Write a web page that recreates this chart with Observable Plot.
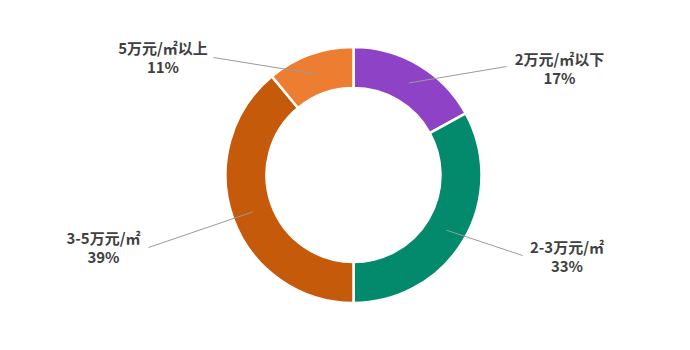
<!DOCTYPE html>
<html><head><meta charset="utf-8">
<script src="https://cdn.jsdelivr.net/npm/d3@7"></script>
<script src="https://cdn.jsdelivr.net/npm/@observablehq/plot@0.6"></script>
<style>body{margin:0;background:#fff}#chart{width:690px;height:350px}</style>
</head><body><div id="chart"></div>
<script>
// ---- data ----
const categories = ["2万元/㎡以下", "2-3万元/㎡", "3-5万元/㎡", "5万元/㎡以上"];
const shares = [17, 33, 39, 11];
const colors = ["#8E43C7", "#03896B", "#C55A0B", "#ED7D31"];

// ---- layout (pixels) ----
const W = 690, H = 350, CX = 353.5, CY = 175, R_OUT = 128, R_IN = 87;
const labelAt = [[559, 67.5], [566.5, 255.5], [103, 247], [162.5, 57]];
const leaderEnd = [[506, 66], [522, 255], [148, 247], [213, 57]];

const data = categories.map((c, i) => ({cat: c, share: shares[i], color: colors[i]}));
const arcs = d3.pie().sort(null).value(d => d.share)(data);
const rMid = (R_IN + R_OUT) / 2 / R_OUT;
const ux = px => (px - CX) / R_OUT, uy = py => (CY - py) / R_OUT;

const rows = arcs.map((a, i) => {
  const m = (a.startAngle + a.endAngle) / 2;
  return {
    ...a.data,
    sx: rMid * Math.sin(m), sy: rMid * Math.cos(m),
    ex: ux(leaderEnd[i][0]), ey: uy(leaderEnd[i][1]),
    tx: ux(labelAt[i][0]), ty: uy(labelAt[i][1])
  };
});

function slices(index, scales) {
  const x0 = scales.x(0), y0 = scales.y(0), k = scales.x(1) - scales.x(0);
  const arc = d3.arc().innerRadius(R_IN / R_OUT * k).outerRadius(k);
  const g = d3.create("svg:g").attr("transform", `translate(${x0},${y0})`);
  g.selectAll("path").data(arcs).join("path")
    .attr("d", arc).attr("fill", d => d.data.color)
    .attr("stroke", "#fff").attr("stroke-width", 2.5).attr("stroke-linejoin", "round");
  return g.node();
}

const chart = Plot.plot({
  width: W, height: H, margin: 0,
  x: {domain: [ux(0), ux(W)], axis: null},
  y: {domain: [uy(H), uy(0)], axis: null},
  style: {background: "#fff"},
  marks: [
    slices,
    Plot.link(rows, {x1: "sx", y1: "sy", x2: "ex", y2: "ey", stroke: "#9a9a9a", strokeWidth: 1}),
    Plot.text(rows, {
      x: "tx", y: "ty", text: d => `${d.cat}\n${d.share}%`,
      fontSize: 15, fontWeight: "bold", fill: "#404040", lineHeight: 1.28,
      textAnchor: "middle", lineAnchor: "middle",
      fontFamily: "'Noto Sans CJK SC', 'Noto Sans', sans-serif"
    })
  ]
});
document.getElementById("chart").append(chart);
</script>
</body></html>
